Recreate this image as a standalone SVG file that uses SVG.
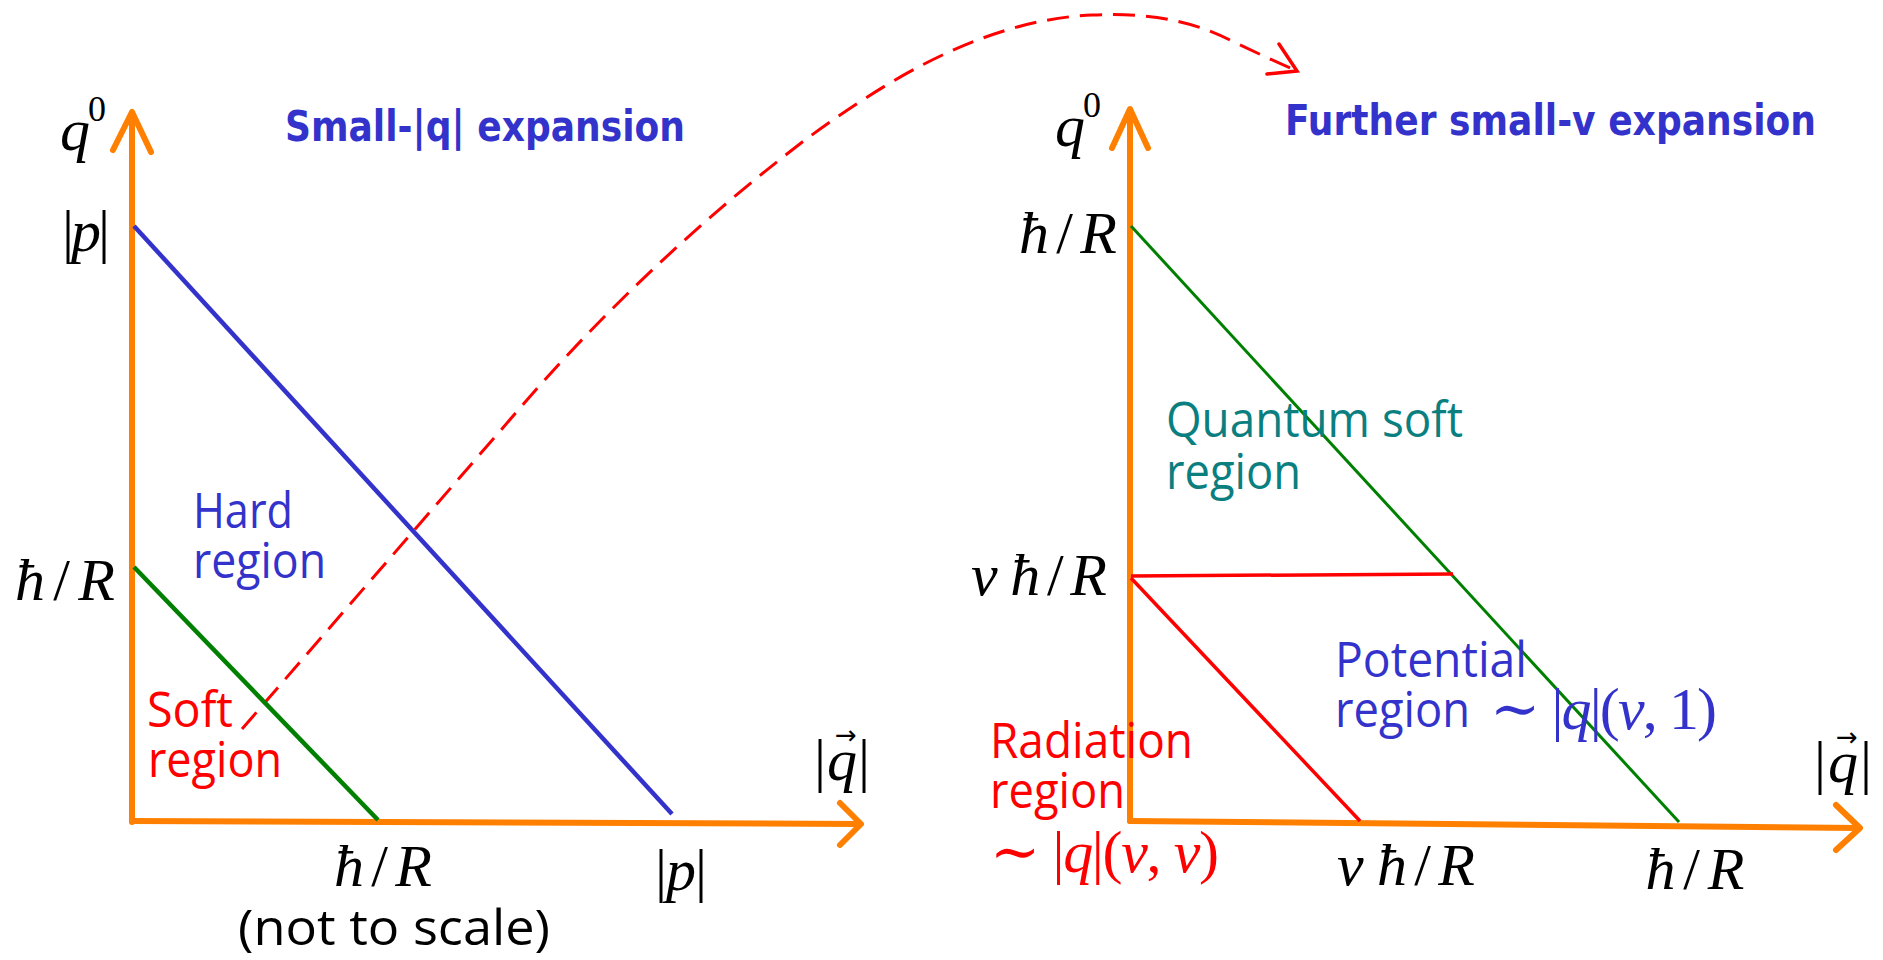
<svg xmlns="http://www.w3.org/2000/svg" width="1883" height="960" viewBox="0 0 1883 960">
<defs>
<style>
.bg{fill:#ffffff}
.axis{stroke:#FF8000;stroke-width:6;fill:none;stroke-linecap:round;stroke-linejoin:round}
.blue{stroke:#3333CC;stroke-width:4.5;fill:none}
.green{stroke:#008000;stroke-width:4.5;fill:none}
.green2{stroke:#008000;stroke-width:3;fill:none}
.redl{stroke:#FF0000;stroke-width:3.5;fill:none}
.dash{stroke:#FF0000;stroke-width:3;fill:none;stroke-dasharray:22 11}
.arrowhead{stroke:#FF0000;stroke-width:3.5;fill:none;stroke-linecap:round}
.math{font-family:"Liberation Serif","DejaVu Serif",serif;font-style:italic;font-size:60px;fill:#000}
.up{font-style:normal}
.sup{font-family:"Liberation Serif","DejaVu Serif",serif;font-style:normal;font-size:36px;fill:#000}
.vec{font-family:"DejaVu Sans",sans-serif;font-size:26px;fill:#000}
.lbl{font-family:"Open Sans","Noto Sans",sans-serif;font-size:49px}
.title{font-family:"DejaVu Sans",sans-serif;font-weight:bold;font-size:42px;fill:#3333CC}
.cb{fill:#3333CC}
.cr{fill:#FF0000}
.ct{fill:#0B7F7F}
.ck{fill:#000}
</style>
</defs>
<rect class="bg" x="0" y="0" width="1883" height="960"/>

<g id="connectors">
<path class="dash" d="M242,729 L520,408 C600,315 700,220 805,140 C880,85 980,20 1092,15 C1160,12 1200,25 1230,40 C1255,52 1278,63 1295,70"/>
<polyline class="arrowhead" points="1279,44 1297,71 1267,74"/>
</g>

<g id="left-axes">
<line class="axis" x1="132" y1="822" x2="132" y2="113"/>
<polyline class="axis" points="113,150 132,112 151,152"/>
<line class="axis" x1="132" y1="821" x2="859" y2="824"/>
<polyline class="axis" points="840,803 861,824 840,845"/>
</g>

<g id="left-lines">
<line class="blue" x1="134" y1="226" x2="672" y2="814"/>
<line class="green" x1="134" y1="567" x2="378" y2="820"/>
</g>

<g id="left-title">
<text class="title" x="285" y="141" textLength="400" lengthAdjust="spacingAndGlyphs">Small-|q| expansion</text>
</g>

<g id="left-labels">
<text class="math" x="60" y="150">q</text>
<text class="sup" x="88" y="121">0</text>
<text class="math" x="110" y="251" text-anchor="end" textLength="48" lengthAdjust="spacing"><tspan class="up">|</tspan>p<tspan class="up">|</tspan></text>
<text class="math" x="115" y="600" text-anchor="end" textLength="100" lengthAdjust="spacing">ħ<tspan class="up">/</tspan>R</text>
<text class="math" x="383" y="886" text-anchor="middle" textLength="98" lengthAdjust="spacing">ħ<tspan class="up">/</tspan>R</text>
<text class="math" x="681" y="890" text-anchor="middle" textLength="52" lengthAdjust="spacing"><tspan class="up">|</tspan>p<tspan class="up">|</tspan></text>
<text class="math" x="842" y="780" text-anchor="middle" textLength="56" lengthAdjust="spacing"><tspan class="up">|</tspan>q<tspan class="up">|</tspan></text>
<text class="vec" x="846" y="744" text-anchor="middle">→</text>
<text class="lbl ck" x="394" y="945" text-anchor="middle" textLength="312" lengthAdjust="spacingAndGlyphs">(not to scale)</text>
</g>

<g id="hard-region">
<text class="lbl cb" x="193" y="528" textLength="100" lengthAdjust="spacingAndGlyphs">Hard</text>
<text class="lbl cb" x="193" y="578" textLength="133" lengthAdjust="spacingAndGlyphs">region</text>
</g>

<g id="soft-region">
<text class="lbl cr" x="147" y="727" textLength="86" lengthAdjust="spacingAndGlyphs">Soft</text>
<text class="lbl cr" x="148" y="777" textLength="134" lengthAdjust="spacingAndGlyphs">region</text>
</g>

<g id="right-axes">
<line class="axis" x1="1130" y1="821" x2="1130" y2="110"/>
<polyline class="axis" points="1112,148 1130,109 1148,148"/>
<line class="axis" x1="1130" y1="821" x2="1858" y2="828"/>
<polyline class="axis" points="1836,805 1860,828 1836,850"/>
</g>

<g id="right-lines">
<line class="green2" x1="1131" y1="226" x2="1679" y2="822"/>
<line class="redl" x1="1131" y1="576" x2="1453" y2="574"/>
<line class="redl" x1="1131" y1="578" x2="1360" y2="821"/>
</g>

<g id="right-title">
<text class="title" x="1285" y="135" textLength="531" lengthAdjust="spacingAndGlyphs">Further small-v expansion</text>
</g>

<g id="right-labels">
<text class="math" x="1055" y="146">q</text>
<text class="sup" x="1083" y="117">0</text>
<text class="math" x="1117" y="253" text-anchor="end" textLength="98" lengthAdjust="spacing">ħ<tspan class="up">/</tspan>R</text>
<text class="math" x="1107" y="595" text-anchor="end" textLength="136" lengthAdjust="spacing">v<tspan dx="6">ħ</tspan><tspan class="up">/</tspan>R</text>
<text class="math" x="1406" y="885" text-anchor="middle" textLength="138" lengthAdjust="spacing">v<tspan dx="6">ħ</tspan><tspan class="up">/</tspan>R</text>
<text class="math" x="1695" y="889" text-anchor="middle" textLength="99" lengthAdjust="spacing">ħ<tspan class="up">/</tspan>R</text>
<text class="math" x="1843" y="782" text-anchor="middle" textLength="58" lengthAdjust="spacing"><tspan class="up">|</tspan>q<tspan class="up">|</tspan></text>
<text class="vec" x="1847" y="746" text-anchor="middle">→</text>
</g>

<g id="quantum-soft-region">
<text class="lbl ct" x="1166" y="437" textLength="297" lengthAdjust="spacingAndGlyphs">Quantum soft</text>
<text class="lbl ct" x="1166" y="489" textLength="135" lengthAdjust="spacingAndGlyphs">region</text>
</g>

<g id="potential-region">
<text class="lbl cb" x="1335" y="677" textLength="192" lengthAdjust="spacingAndGlyphs">Potential</text>
<text class="lbl cb" x="1335" y="727" textLength="135" lengthAdjust="spacingAndGlyphs">region</text>
<text class="math cb" x="1490" y="729" textLength="227" lengthAdjust="spacing"><tspan class="up">∼ |</tspan>q<tspan class="up">|(</tspan>v<tspan class="up">, 1)</tspan></text>
</g>

<g id="radiation-region">
<text class="lbl cr" x="990" y="758" textLength="203" lengthAdjust="spacingAndGlyphs">Radiation</text>
<text class="lbl cr" x="990" y="808" textLength="135" lengthAdjust="spacingAndGlyphs">region</text>
<text class="math cr" x="990" y="872" textLength="229" lengthAdjust="spacing"><tspan class="up">∼ |</tspan>q<tspan class="up">|(</tspan>v<tspan class="up">, </tspan>v<tspan class="up">)</tspan></text>
</g>
</svg>
